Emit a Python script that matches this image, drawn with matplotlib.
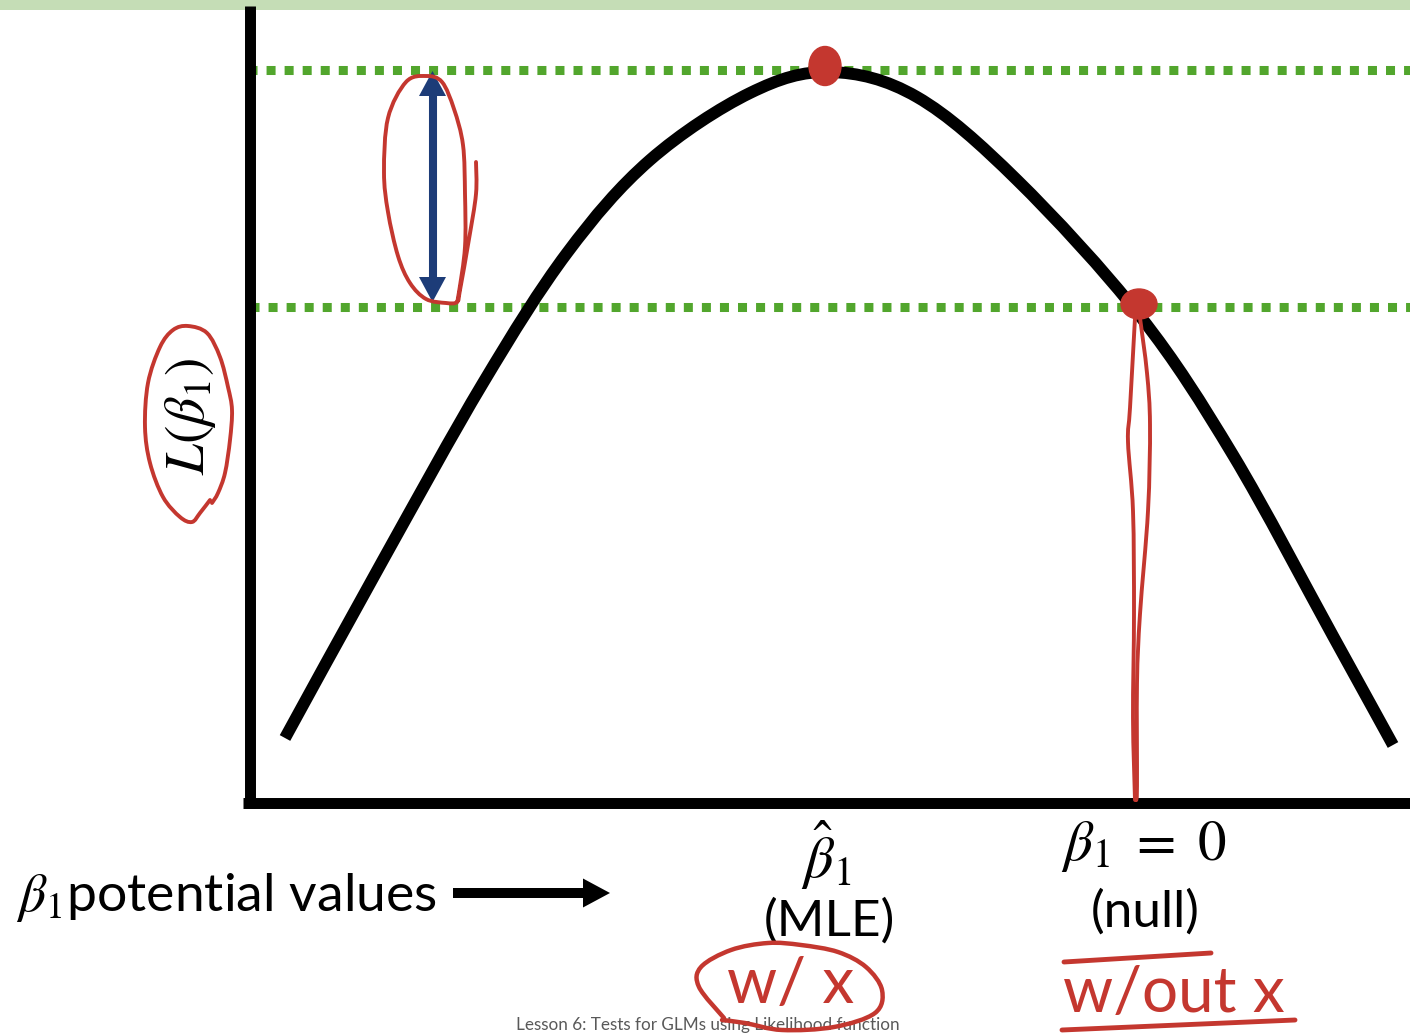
import numpy as np
import matplotlib.pyplot as plt
from matplotlib.path import Path
from matplotlib.patches import PathPatch, Ellipse

plt.rcParams['font.family'] = ['Lato', 'DejaVu Sans']
plt.rcParams['mathtext.fontset'] = 'stix'

# likelihood curve, points (pixel coords, y down)
curve_x = [285, 383, 483, 567, 650, 750, 830, 917, 1017, 1140, 1233, 1333, 1393]
curve_y = [738, 560, 383, 253, 160, 93, 72, 97, 180, 316, 455, 636, 745]

level_hi = 70     # L at the MLE
level_lo = 307    # L at beta1 = 0

# hand drawn red annotations
loop_arrow_x = [476, 476, 469, 460, 457, 446, 426, 410, 398, 388, 384, 388, 406, 426,
                442, 454, 463, 465, 465, 459, 457]
loop_arrow_y = [162, 194, 239, 290, 302, 303, 299, 283, 256, 212, 172, 118, 82, 76,
                82, 109, 145, 194, 247, 292, 302]
loop_L_x = [210, 200, 192, 180, 163, 150, 145, 148, 160, 173, 188, 207, 220, 228,
            232, 230, 225, 218, 212]
loop_L_y = [500, 513, 522, 517, 497, 463, 427, 383, 347, 330, 326, 333, 357, 387,
            410, 440, 473, 493, 503]
drop_a_x = [1135, 1130, 1128, 1133, 1134, 1133, 1135]
drop_a_y = [318, 408, 442, 511, 614, 718, 800]
drop_b_x = [1140, 1147, 1150, 1148, 1140, 1137, 1137, 1136]
drop_b_y = [318, 373, 425, 511, 614, 683, 786, 800]
loop_wx_x = [724, 699, 701, 731, 768, 801, 838, 866, 882, 875, 834, 782, 745, 722]
loop_wx_y = [1018, 987, 967, 950, 943, 945, 952, 967, 990, 1013, 1027, 1030, 1023, 1020]

green = '#52a62d'
red = '#c4372f'
blue = '#1d3c78'


def smooth_path(xs, ys):
    # catmull-rom through the read points, drawn as cubic beziers
    p = np.column_stack([xs, ys]).astype(float)
    verts = [p[0]]
    codes = [Path.MOVETO]
    n = len(p)
    for i in range(n - 1):
        p0 = p[i - 1] if i > 0 else p[i]
        p1, p2 = p[i], p[i + 1]
        p3 = p[i + 2] if i + 2 < n else p[i + 1]
        verts += [p1 + (p2 - p0) / 6, p2 - (p3 - p1) / 6, p2]
        codes += [Path.CURVE4] * 3
    return Path(verts, codes)


def stroke(xs, ys, lw, color, z=5, cap='round'):
    ax.add_patch(PathPatch(smooth_path(xs, ys), fill=False, lw=lw, edgecolor=color,
                           capstyle=cap, joinstyle='round', zorder=z))


fig = plt.figure(figsize=(14.1, 10.35), dpi=100)
ax = fig.add_axes([0, 0, 1, 1])
ax.set_xlim(0, 1410)
ax.set_ylim(1035, 0)
ax.axis('off')

# slide header band
ax.axhspan(0, 10, color='#c5ddb6', lw=0, zorder=0)

# dotted levels
ax.plot([248, 1410], [level_hi, level_hi], color=green, lw=6.5, ls=(0, (1, 1)),
        dash_capstyle='butt', zorder=1)
ax.plot([250, 1410], [level_lo, level_lo], color=green, lw=6.5, ls=(0, (1, 1)),
        dash_capstyle='butt', zorder=1)

# axes of the sketch
ax.plot([250, 250], [6, 808], color='black', lw=7.9, solid_capstyle='butt', zorder=3)
ax.plot([243, 1410], [803, 803], color='black', lw=7.9, solid_capstyle='butt', zorder=3)

# curve
stroke(curve_x, curve_y, 8.6, 'black', z=2, cap='butt')

# double arrow between the levels
top, bot = level_hi + 1, level_lo - 5
ax.plot([432.5, 432.5], [top + 24, bot - 24], color=blue, lw=5.8,
        solid_capstyle='butt', zorder=4)
ax.arrow(432.5, top + 25, 0, -25, width=8, head_width=27, head_length=25,
         length_includes_head=True, color=blue, lw=0, zorder=4)
ax.arrow(432.5, bot - 25, 0, 25, width=8, head_width=27, head_length=25,
         length_includes_head=True, color=blue, lw=0, zorder=4)

# black arrow along x
ax.arrow(453, 893, 157, 0, width=10, head_width=29, head_length=27,
         length_includes_head=True, color='black', lw=0)

# text
ax.text(190, 416, r'$L(\beta_1)$', fontsize=40, rotation=90, ha='center', va='center')
ax.text(16, 911, r'$\beta_1$potential values', fontsize=38.5, ha='left', va='baseline')
ax.text(826, 855, r'$\hat{\beta}_1$', fontsize=42, ha='center', va='center')
ax.text(829, 921, '(MLE)', fontsize=37, ha='center', va='center')
ax.text(1144, 846, r'$\beta_1\ =\ 0$', fontsize=41, ha='center', va='center')
ax.text(1145, 912, '(null)', fontsize=37, ha='center', va='center')
ax.text(708, 1025, 'Lesson 6: Tests for GLMs using Likelihood function', fontsize=12.3,
        color='#595959', ha='center', va='center')

# red annotations
ax.add_patch(Ellipse((825, 66), 32, 39, color=red, zorder=5))
ax.add_patch(Ellipse((1139, 304), 36, 30, color=red, zorder=5))
stroke(loop_arrow_x, loop_arrow_y, 2.8, red)
stroke(loop_L_x, loop_L_y, 2.8, red)
stroke(drop_a_x, drop_a_y, 2.8, red)
stroke(drop_b_x, drop_b_y, 2.8, red)
stroke(loop_wx_x, loop_wx_y, 3.2, red)
ax.plot([1064, 1211], [962, 953], color=red, lw=3.5, solid_capstyle='round', zorder=5)
ax.plot([1062, 1295], [1030, 1020], color=red, lw=3.5, solid_capstyle='round', zorder=5)
ax.text(791, 985, 'w/ x', fontsize=46, color=red, ha='center', va='center', zorder=5)
ax.text(1174, 994, 'w/out x', fontsize=46, color=red, ha='center', va='center', zorder=5)

fig.savefig('out.png', dpi=100)
